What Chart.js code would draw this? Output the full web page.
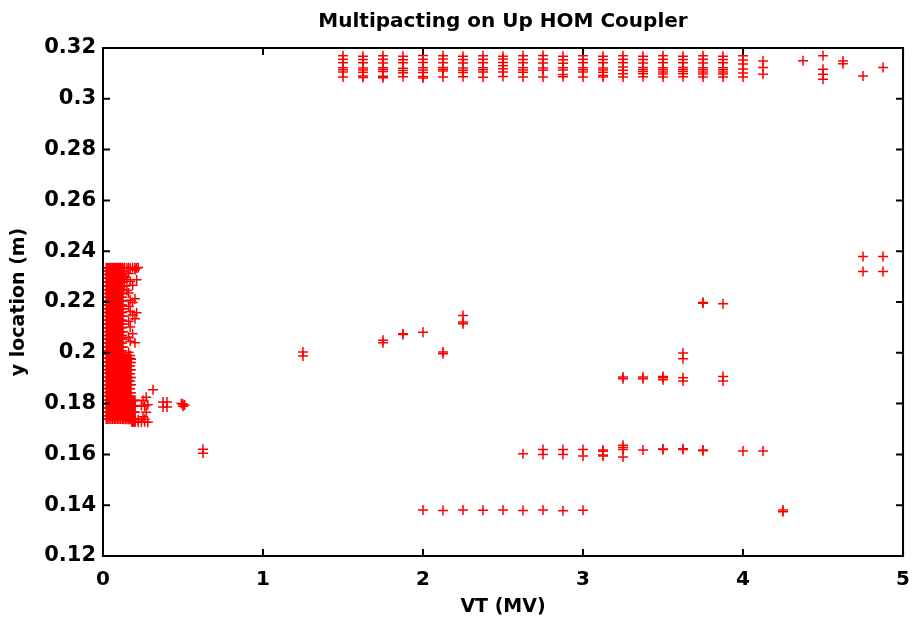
<!DOCTYPE html>
<html>
<head>
<meta charset="utf-8">
<script src="https://cdn.jsdelivr.net/npm/chart.js@4/dist/chart.umd.min.js"></script>
<style>
  html, body { margin: 0; padding: 0; background: #fff; }
  #wrap { width: 922px; height: 619px; }
</style>
</head>
<body>
<div id="wrap"><canvas id="mpChart" width="922" height="619"></canvas></div>
<script>
// tick labels
var xTicks = [0, 1, 2, 3, 4, 5];
var yTicks = [0.12, 0.14, 0.16, 0.18, 0.2, 0.22, 0.24, 0.26, 0.28, 0.3, 0.32];

// y locations (m) found in the dense low-voltage cluster, one ladder per group of columns
var ladderA = [0.1739, 0.1768, 0.1799, 0.1829, 0.1859, 0.1888, 0.1919, 0.1948, 0.1979, 0.2008, 0.2039, 0.2068, 0.2099, 0.2128, 0.2159, 0.2188, 0.2219, 0.2248, 0.2279, 0.2308, 0.2335];
var ladderA2 = [0.1752, 0.1783, 0.1813, 0.1844, 0.1873, 0.1904, 0.1933, 0.1963, 0.1994, 0.2023, 0.2054, 0.2083, 0.2113, 0.2144, 0.2173, 0.2204, 0.2233, 0.2263, 0.2294, 0.2322, 0.2333];
var ladderC = [0.1738, 0.1769, 0.1798, 0.1828, 0.1858, 0.1889, 0.1918, 0.1948, 0.1978];
var ladderC2 = [0.1751, 0.1783, 0.1813, 0.1843, 0.1874, 0.1903, 0.1933, 0.1962, 0.1975];
var ladderD = [0.1729, 0.1740, 0.1766, 0.1790, 0.1812];

// VT (MV) of each cluster column and its ladder
var lowVT = [0.020, 0.025, 0.030, 0.035, 0.040, 0.045, 0.050, 0.055, 0.060, 0.065, 0.070,
  0.075, 0.080, 0.085, 0.090, 0.095, 0.100, 0.105, 0.110, 0.115, 0.120, 0.125,
  0.130, 0.135, 0.140, 0.145, 0.150, 0.155, 0.160, 0.165, 0.170, 0.175,
  0.180, 0.185, 0.190, 0.195, 0.200];
var lowY = [ladderA, ladderA2, ladderA, ladderA2, ladderA, ladderA2, ladderA, ladderA2, ladderA, ladderA2, ladderA,
  ladderA2, ladderA, ladderA2, ladderA, ladderA2, ladderA, ladderA2, ladderA, ladderA2, ladderA, ladderA2,
  ladderC, ladderC2, ladderC, ladderC2, ladderC, ladderC2, ladderC, ladderC2, ladderC, ladderC2,
  ladderD, ladderD, ladderD, ladderD, ladderD];

// upper band near the top of the coupler
var bandVT = [1.5, 1.625, 1.75, 1.875, 2.0, 2.125, 2.25, 2.375, 2.5, 2.625, 2.75, 2.875, 3.0, 3.125, 3.25, 3.375, 3.5, 3.625, 3.75, 3.875, 4.0, 4.125, 4.375, 4.5, 4.625, 4.75, 4.875];
var bandY = [
  [0.3169, 0.3156, 0.3142, 0.3122, 0.3114, 0.3106, 0.3086],
  [0.3168, 0.3155, 0.3142, 0.3121, 0.3113, 0.3105, 0.3090, 0.3084],
  [0.3169, 0.3156, 0.3141, 0.3122, 0.3115, 0.3107, 0.3089, 0.3083],
  [0.3168, 0.3154, 0.3142, 0.3120, 0.3111, 0.3103, 0.3087],
  [0.3170, 0.3156, 0.3143, 0.3122, 0.3113, 0.3104, 0.3088, 0.3082],
  [0.3169, 0.3157, 0.3142, 0.3123, 0.3116, 0.3109, 0.3086],
  [0.3168, 0.3155, 0.3141, 0.3121, 0.3112, 0.3104, 0.3087],
  [0.3169, 0.3156, 0.3142, 0.3122, 0.3114, 0.3106, 0.3085],
  [0.3168, 0.3157, 0.3143, 0.3130, 0.3118, 0.3106, 0.3088],
  [0.3169, 0.3155, 0.3142, 0.3122, 0.3113, 0.3105, 0.3086],
  [0.3170, 0.3156, 0.3141, 0.3121, 0.3112, 0.3086],
  [0.3168, 0.3154, 0.3140, 0.3122, 0.3113, 0.3096, 0.3087],
  [0.3169, 0.3156, 0.3142, 0.3122, 0.3114, 0.3106, 0.3086],
  [0.3168, 0.3155, 0.3142, 0.3121, 0.3113, 0.3105, 0.3092, 0.3086],
  [0.3169, 0.3156, 0.3142, 0.3125, 0.3112, 0.3099, 0.3086],
  [0.3168, 0.3155, 0.3141, 0.3123, 0.3115, 0.3107, 0.3099, 0.3087],
  [0.3169, 0.3156, 0.3142, 0.3122, 0.3114, 0.3106, 0.3098, 0.3086],
  [0.3168, 0.3155, 0.3142, 0.3123, 0.3115, 0.3107, 0.3099, 0.3087],
  [0.3169, 0.3156, 0.3141, 0.3122, 0.3114, 0.3106, 0.3098, 0.3086],
  [0.3168, 0.3155, 0.3142, 0.3122, 0.3114, 0.3106, 0.3098, 0.3086],
  [0.3169, 0.3153, 0.3137, 0.3117, 0.3102, 0.3086],
  [0.3149, 0.3123, 0.3097],
  [0.3150],
  [0.3169, 0.3116, 0.3097, 0.3077],
  [0.3149, 0.3138],
  [0.3090],
  [0.3123]
];

// scattered points: cluster fringe, then the middle of the plot
var midVT = [0.135, 0.135, 0.135, 0.15, 0.15, 0.15, 0.16, 0.16, 0.16, 0.16, 0.16, 0.16, 0.16,
  0.17, 0.17, 0.17, 0.17, 0.17, 0.17, 0.17, 0.185, 0.185, 0.185, 0.185, 0.185,
  0.2, 0.2, 0.2, 0.2, 0.2, 0.21, 0.21, 0.21, 0.22,
  0.20, 0.20, 0.22, 0.22, 0.24, 0.24, 0.26, 0.26, 0.26, 0.28, 0.28,
  0.25, 0.27, 0.27, 0.25, 0.3125, 0.375, 0.375, 0.4, 0.4, 0.49, 0.5, 0.5, 0.51, 0.625, 0.625,
  1.25, 1.25, 1.75, 1.75, 1.875, 1.875, 2.0, 2.125, 2.125, 2.25, 2.25, 2.25,
  3.25, 3.25, 3.375, 3.375, 3.5, 3.5, 3.5, 3.625, 3.625, 3.625, 3.625, 3.75, 3.75, 3.875, 3.875, 3.875,
  4.75, 4.75, 4.875, 4.875,
  2.625, 2.75, 2.75, 2.875, 2.875, 3.0, 3.0, 3.125, 3.125, 3.125, 3.125, 3.25, 3.25, 3.25, 3.25,
  3.375, 3.5, 3.5, 3.625, 3.625, 3.75, 3.75, 4.0, 4.125,
  2.0, 2.125, 2.25, 2.375, 2.5, 2.625, 2.75, 2.875, 3.0, 4.25, 4.25];
var midY = [0.2262, 0.2301, 0.2336, 0.2245, 0.2288, 0.2334, 0.2002, 0.2061, 0.2124, 0.2183, 0.2235, 0.2312, 0.2335,
  0.1989, 0.2045, 0.2102, 0.2163, 0.2207, 0.2281, 0.2333, 0.2075, 0.2149, 0.2198, 0.2266, 0.2336,
  0.2040, 0.2134, 0.2213, 0.2327, 0.2335, 0.2158, 0.2288, 0.2334, 0.2336,
  0.1729, 0.1738, 0.1727, 0.1736, 0.1728, 0.1793, 0.1729, 0.1738, 0.1790, 0.1727, 0.1795,
  0.1813, 0.1825, 0.1766, 0.1748, 0.1855, 0.1806, 0.1787, 0.1806, 0.1787, 0.1800, 0.1797, 0.1790, 0.1794, 0.1620, 0.1605,
  0.2003, 0.1987, 0.2049, 0.2040, 0.2072, 0.2075, 0.2081, 0.2003, 0.1996, 0.2147, 0.2121, 0.2114,
  0.1905, 0.1898, 0.1905, 0.1898, 0.1907, 0.1902, 0.1894, 0.1999, 0.1977, 0.1902, 0.1889, 0.2195, 0.2198, 0.2193, 0.1907, 0.1889,
  0.2379, 0.2320, 0.2379, 0.2320,
  0.1603, 0.1619, 0.1600, 0.1619, 0.1600, 0.1619, 0.1594, 0.1617, 0.1612, 0.1598, 0.1594, 0.1636, 0.1627, 0.1619, 0.1590,
  0.1617, 0.1619, 0.1621, 0.1619, 0.1622, 0.1617, 0.1614, 0.1613, 0.1613,
  0.1381, 0.1379, 0.1381, 0.1380, 0.1381, 0.1379, 0.1381, 0.1378, 0.1380, 0.1381, 0.1374];

var points = [];
lowVT.forEach(function (v, i) { lowY[i].forEach(function (y) { points.push({x: v, y: y}); }); });
bandVT.forEach(function (v, i) { bandY[i].forEach(function (y) { points.push({x: v, y: y}); }); });
midVT.forEach(function (v, i) { points.push({x: v, y: midY[i]}); });

var fontFam = "'DejaVu Sans', sans-serif";

// gnuplot style frame with inward ticks on all four sides
var frame = {
  id: 'frame',
  afterDatasetsDraw: function (chart) {
    var ctx = chart.ctx, a = chart.chartArea, xs = chart.scales.x, ys = chart.scales.y;
    ctx.save();
    ctx.strokeStyle = '#000';
    ctx.lineWidth = 2;
    ctx.strokeRect(a.left, a.top, a.right - a.left, a.bottom - a.top);
    ctx.beginPath();
    xs.ticks.forEach(function (t) {
      var px = xs.getPixelForValue(t.value);
      ctx.moveTo(px, a.bottom); ctx.lineTo(px, a.bottom - 7);
      ctx.moveTo(px, a.top); ctx.lineTo(px, a.top + 7);
    });
    ys.ticks.forEach(function (t) {
      var py = ys.getPixelForValue(t.value);
      ctx.moveTo(a.left, py); ctx.lineTo(a.left + 7, py);
      ctx.moveTo(a.right, py); ctx.lineTo(a.right - 7, py);
    });
    ctx.stroke();
    ctx.restore();
  }
};

var chart = new Chart(document.getElementById('mpChart').getContext('2d'), {
  type: 'scatter',
  data: {
    datasets: [{
      label: 'multipacting',
      data: points,
      clip: 0,
      pointStyle: 'cross',
      pointRadius: 5,
      pointHoverRadius: 5,
      borderColor: 'rgb(255, 0, 0)',
      backgroundColor: 'rgb(255, 0, 0)',
      borderWidth: 1.5
    }]
  },
  options: {
    responsive: false,
    animation: false,
    layout: { padding: { left: 0, right: 13, top: 0, bottom: 0 } },
    plugins: {
      legend: { display: false },
      tooltip: { enabled: false },
      title: {
        display: true,
        text: 'Multipacting on Up HOM Coupler',
        fullSize: false,
        color: '#000',
        font: { family: fontFam, size: 20, weight: 'bold' },
        padding: { top: 10, bottom: 14 }
      }
    },
    scales: {
      x: {
        type: 'linear',
        min: 0, max: 5,
        afterBuildTicks: function (s) { s.ticks = xTicks.map(function (v) { return {value: v}; }); },
        afterFit: function (s) { s.height = 63; },
        grid: { display: false, drawTicks: false },
        border: { display: false },
        ticks: { color: '#000', padding: 12, font: { family: fontFam, size: 20, weight: 'bold' } },
        title: { display: true, text: 'VT (MV)', color: '#000', padding: { top: 0, bottom: 1 },
          font: { family: fontFam, size: 19, weight: 'bold' } }
      },
      y: {
        type: 'linear',
        min: 0.12, max: 0.32,
        afterBuildTicks: function (s) { s.ticks = yTicks.map(function (v) { return {value: v}; }); },
        afterFit: function (s) { s.width = 103; },
        grid: { display: false, drawTicks: false },
        border: { display: false },
        ticks: { color: '#000', padding: 7, font: { family: fontFam, size: 21, weight: 'bold' },
          callback: function (v) { return String(+v.toFixed(2)); } },
        title: { display: true, text: 'y location (m)', color: '#000', padding: { top: 8, bottom: 0 },
          font: { family: fontFam, size: 19, weight: 'bold' } }
      }
    }
  },
  plugins: [frame]
});
</script>
</body>
</html>
